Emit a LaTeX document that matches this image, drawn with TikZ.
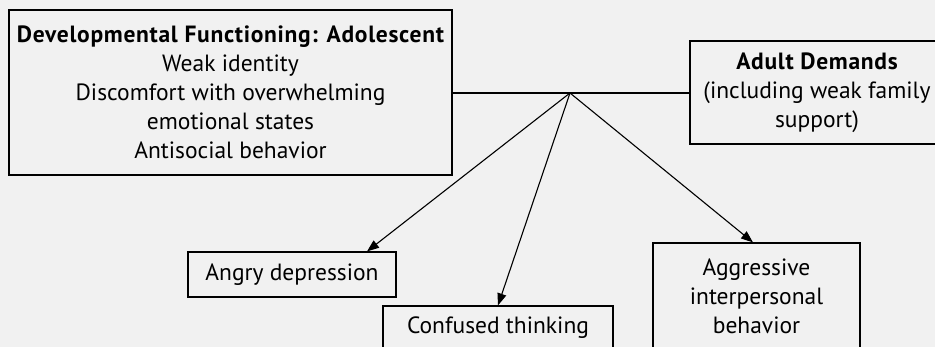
\documentclass[tikz,border=0pt]{standalone}
\usepackage{fontspec}
\setmainfont{PT Sans}
\usetikzlibrary{arrows.meta}
\definecolor{bg}{RGB}{241,241,241}
\newcommand\headtxt[1]{{\bfseries\addfontfeature{LetterSpace=3}#1}}
\begin{document}
\begin{tikzpicture}[x=1pt,y=-1pt,
  box/.style={draw=black,line width=1.2pt,inner sep=0pt,align=center,
    font=\fontsize{23.5}{29}\selectfont},
  link/.style={line width=1.1pt},
  arr/.style={link,-{Triangle[length=12pt,width=9pt]}}]
  \fill[bg] (0,0) rectangle (935,347);
  \useasboundingbox (0,0) rectangle (935,347);
  \clip (0,0) rectangle (935,347);
  % upper boxes
  \node[box,minimum width=443pt,minimum height=165pt] (dev) at (230.5,92.5)
    {\headtxt{Developmental Functioning: Adolescent}\\Weak identity\\
     Discomfort with overwhelming\\emotional states\\Antisocial behavior};
  \node[box,minimum width=254pt,minimum height=103pt] (adult) at (817,92.5)
    {\headtxt{Adult Demands}\\(including weak family\\support)};
  % lower boxes
  \node[box,minimum width=208pt,minimum height=45pt] (angry) at (292,274.5)
    {Angry depression};
  \node[box,minimum width=230pt,minimum height=44pt] (conf) at (498,328)
    {Confused thinking};
  \node[box,minimum width=207pt,minimum height=106pt] (aggr) at (756.5,296)
    {Aggressive\\interpersonal\\behavior};
  % junction on the connecting line
  \coordinate (hub) at (570,93);
  \draw[link] (dev.east |- hub) -- (adult.west |- hub);
  \draw[arr] (hub) -- ([xshift=75pt]angry.north);
  \draw[arr] (hub) -- (conf.north);
  \draw[arr] (hub) -- ([xshift=-3.5pt]aggr.north);
\end{tikzpicture}
\end{document}
